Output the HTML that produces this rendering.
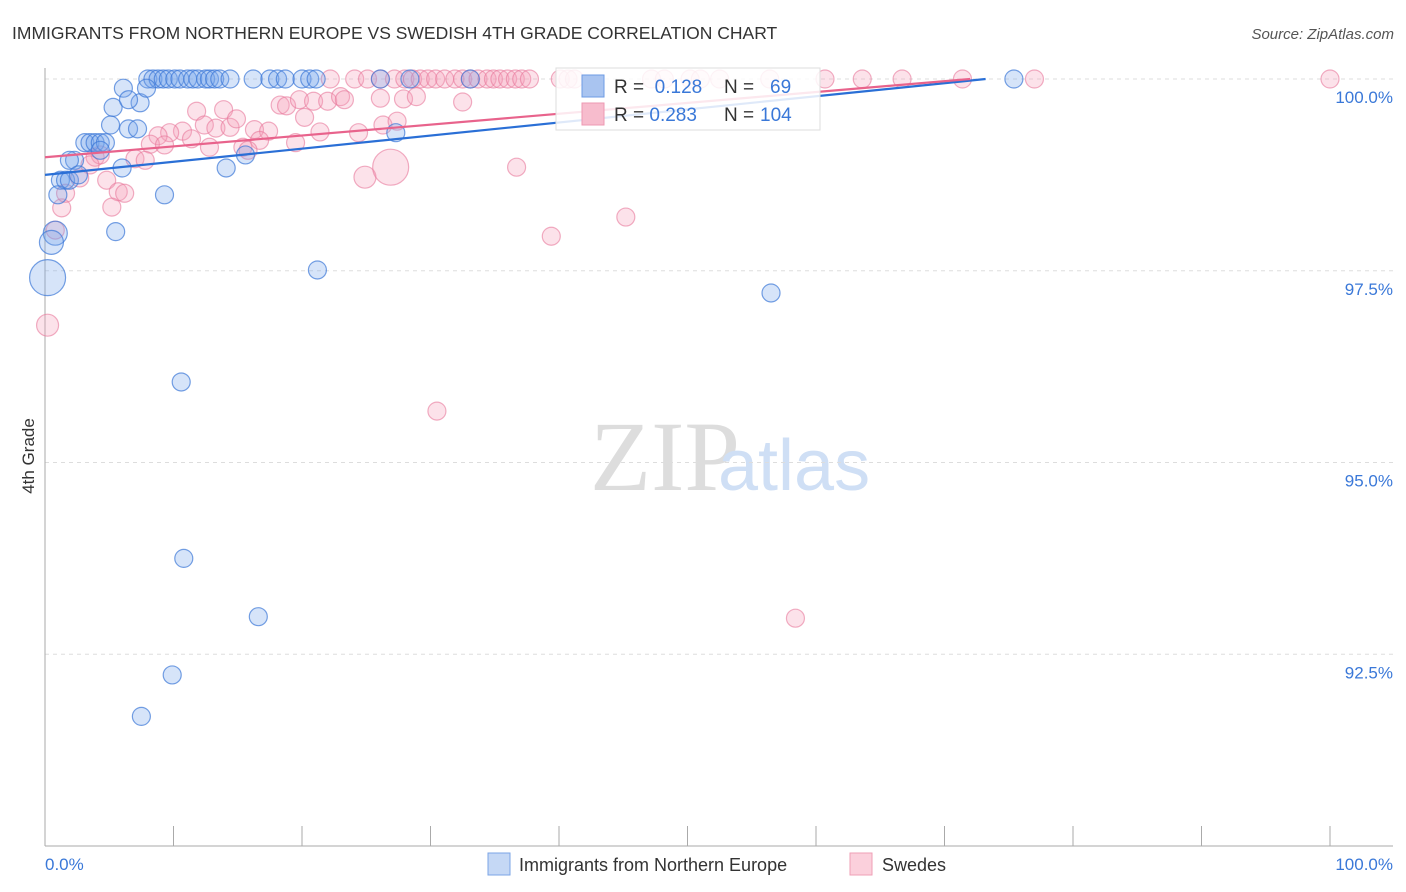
<!DOCTYPE html>
<html><head><meta charset="utf-8"><style>
body{margin:0;background:#fff;font-family:"Liberation Sans",sans-serif;}
svg{display:block}
</style></head><body>
<svg width="1406" height="892">
<text x="12" y="39" font-size="17.5" fill="#333">IMMIGRANTS FROM NORTHERN EUROPE VS SWEDISH 4TH GRADE CORRELATION CHART</text>
<text x="1394" y="39" font-size="15" fill="#555" font-style="italic" text-anchor="end">Source: ZipAtlas.com</text>
<text x="590" y="490" font-size="100" fill="#ddd" font-family="Liberation Serif,serif">ZIP</text>
<text x="718" y="490" font-size="72" fill="#cfdff5">atlas</text>
<g id="grid"></g>
<line x1="45" y1="68" x2="45" y2="846" stroke="#aaa"/>
<line x1="45" y1="846" x2="1393" y2="846" stroke="#aaa"/>
<g id="ticks"></g>
<text x="34" y="456" font-size="17" fill="#333" transform="rotate(-90 34 456)" text-anchor="middle">4th Grade</text>
<text x="45" y="870" font-size="17" fill="#3a78d8">0.0%</text>
<text x="1393" y="870" font-size="17" fill="#3a78d8" text-anchor="end">100.0%</text>
<g id="pts"></g>
<g id="lines"></g>
<g>
<rect x="556" y="68" width="264" height="62" fill="#fff" fill-opacity="0.85" stroke="#ddd"/>
<rect x="582" y="75" width="22" height="22" fill="#a9c4f0" stroke="#6d9be4"/>
<rect x="582" y="103" width="22" height="22" fill="#f7bccd" stroke="#ee98b2"/>
<text x="614" y="93" font-size="19" fill="#333">R = <tspan fill="#3a78d8">&#160;0.128</tspan><tspan x="724">N = </tspan><tspan x="770" fill="#3a78d8">69</tspan></text>
<text x="614" y="121" font-size="19" fill="#333">R = <tspan fill="#3a78d8">0.283</tspan><tspan x="724">N = </tspan><tspan x="760" fill="#3a78d8">104</tspan></text>
</g>
<g>
<rect x="488" y="853" width="22" height="22" fill="#c5d8f5" stroke="#7ba4e6"/>
<text x="519" y="871" font-size="18" fill="#333">Immigrants from Northern Europe</text>
<rect x="850" y="853" width="22" height="22" fill="#fbd0dc" stroke="#ef9fb6"/>
<text x="882" y="871" font-size="18" fill="#333">Swedes</text>
</g>
</svg>
<script>
const yTicks=[100,97.5,95,92.5];
const yTickLabels=["100.0%","97.5%","95.0%","92.5%"];
const xTicks=[0,10,20,30,40,50,60,70,80,90,100];
const blueX=[8.0,8.4,8.8,9.2,9.6,10.1,10.5,11.1,11.5,11.9,12.5,12.8,13.2,13.6,14.4,16.2,17.5,18.1,18.7,20.0,20.6,21.1,26.1,28.4,33.1,75.4,
6.1,5.3,7.4,6.5,7.9,5.1,6.5,7.2,3.1,3.5,3.9,4.3,4.7,2.3,1.9,4.3,1.2,1.6,1.9,2.6,1.0,6.0,9.3,14.1,15.6,5.5,0.8,0.5,0.2,21.2,56.5,10.6,10.8,16.6,9.9,7.5,27.3];
const blueY=[100,100,100,100,100,100,100,100,100,100,100,100,100,100,100,100,100,100,100,100,100,100,100,100,100,100,
99.88,99.63,99.69,99.73,99.88,99.40,99.35,99.35,99.17,99.17,99.17,99.17,99.17,98.94,98.94,99.07,98.68,98.68,98.68,98.75,98.49,98.84,98.49,98.84,99.01,98.01,97.99,97.87,97.41,97.51,97.21,96.05,93.75,92.99,92.23,91.69,99.30];
const blueR=blueX.map((x,i)=>i===54?18:(i===53||i===52?12:9));
const pinkX=[22.2,24.1,25.1,26.1,27.2,28.0,28.6,29.2,29.8,30.4,31.1,31.9,32.5,33.1,33.7,34.4,34.9,35.4,36.0,36.6,37.1,37.7,40.1,40.7,41.2,47.2,48.2,50.2,51.0,52.5,56.4,60.7,63.6,66.7,71.4,77.0,100,
11.8,13.9,18.3,18.8,19.8,20.9,22.0,23.0,23.3,26.1,27.9,28.9,32.5,20.2,12.4,13.3,14.4,14.9,16.3,17.4,10.7,9.7,8.8,8.2,9.3,11.4,12.8,16.7,19.5,21.4,24.4,26.3,27.4,15.4,15.8,7.0,7.8,3.9,4.3,3.5,2.7,4.8,5.7,6.2,5.2,1.3,1.6,0.8,0.2,24.9,26.9,36.7,39.4,45.2,30.5,58.4];
const pinkY=[100,100,100,100,100,100,100,100,100,100,100,100,100,100,100,100,100,100,100,100,100,100,100,100,100,100,100,100,100,100,100,100,100,100,100,100,100,
99.58,99.60,99.66,99.65,99.73,99.71,99.71,99.77,99.73,99.75,99.74,99.77,99.70,99.50,99.40,99.36,99.37,99.48,99.34,99.32,99.32,99.30,99.26,99.15,99.14,99.22,99.11,99.20,99.17,99.31,99.30,99.40,99.45,99.11,99.07,98.96,98.94,98.98,99.01,98.88,98.71,98.68,98.53,98.51,98.33,98.32,98.51,98.03,96.79,98.72,98.85,98.85,97.95,98.20,95.67,92.97];
const pinkR=pinkX.map((x,i)=>i===87?18:(i===86||i===85?11:9));
const blueLine=[[0,98.75],[73.2,100]];
const pinkLine=[[0,98.98],[72.0,100]];
const NS="http://www.w3.org/2000/svg";
const sx=v=>45+v*12.85, sy=v=>79+(100-v)*76.7;
function mk(t,a,p){const e=document.createElementNS(NS,t);for(const k in a)e.setAttribute(k,a[k]);p.appendChild(e);return e;}
const grid=document.getElementById('grid'),ticks=document.getElementById('ticks'),pts=document.getElementById('pts'),lines=document.getElementById('lines');
yTicks.forEach((v,i)=>{
 const l=mk('line',{x1:45,x2:1393,y1:sy(v),y2:sy(v),stroke:'#ddd','stroke-dasharray':'4,4'},grid);
 
 
 const t=mk('text',{x:1393,y:sy(v)+24,'font-size':17,fill:'#3a78d8','text-anchor':'end'},ticks);
 t.textContent=yTickLabels[i];
 
 
});
xTicks.forEach(v=>{
 const l=mk('line',{x1:sx(v),x2:sx(v),y1:826,y2:846,stroke:'#aaa'},ticks);
 
 
});
function dots(X,Y,R,fill,stroke,name){X.forEach((x,i)=>{
 const c=mk('circle',{cx:sx(x),cy:sy(Y[i]),r:R[i],fill:fill,stroke:stroke,'stroke-width':1.2},pts);
 
 
});}
dots(pinkX,pinkY,pinkR,'rgba(244,160,185,0.3)','rgba(232,120,155,0.6)','swedes-point');
dots(blueX,blueY,blueR,'rgba(120,165,235,0.3)','rgba(60,120,215,0.7)','immigrants-point');
const bl=mk('line',{x1:sx(blueLine[0][0]),y1:sy(blueLine[0][1]),x2:sx(blueLine[1][0]),y2:sy(blueLine[1][1]),stroke:'#2a6fd6','stroke-width':2.2},lines);


const pl=mk('line',{x1:sx(pinkLine[0][0]),y1:sy(pinkLine[0][1]),x2:sx(pinkLine[1][0]),y2:sy(pinkLine[1][1]),stroke:'#e8638c','stroke-width':2.2},lines);


</script>
</body></html>
